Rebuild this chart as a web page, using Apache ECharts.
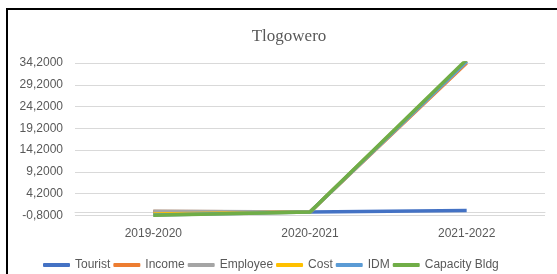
<!DOCTYPE html>
<html>
<head>
<meta charset="utf-8">
<script src="https://cdn.jsdelivr.net/npm/echarts@6/dist/echarts.min.js"></script>
<style>
  html, body { margin: 0; padding: 0; background: #fff; }
  #chart-container { width: 557px; height: 274px; }
</style>
</head>
<body>
<div id="chart-container"></div>
<script>
var categories = ["2019-2020", "2020-2021", "2021-2022"];
var tourist = [0, 0, 0.35];
var income = [0.1, 0, 34.2];
var employee = [0.15, 0, 34.5];
var cost = [-0.45, 0, 34.7];
var idm = [-0.7, 0, 34.6];
var capacityBldg = [-0.75, 0, 35.0];

var seriesNames = ["Tourist", "Income", "Employee", "Cost", "IDM", "Capacity Bldg"];
var seriesValues = [tourist, income, employee, cost, idm, capacityBldg];
var colors = ["#4472C4", "#ED7D31", "#A5A5A5", "#FFC000", "#5B9BD5", "#70AD47"];

var dom = document.getElementById("chart-container");
var myChart = echarts.init(dom, null, { renderer: "canvas" });

var option = {
  backgroundColor: "#fff",
  color: colors,
  animation: false,
  title: {
    text: "Tlogowero",
    left: 284,
    top: 23,
    textAlign: "center",
    textStyle: {
      fontFamily: "Liberation Serif",
      fontSize: 17,
      fontWeight: "normal",
      color: "#595959",
    },
  },
  graphic: [
    {
      type: "rect",
      shape: { x: 7, y: 9, width: 620, height: 320 },
      style: { fill: "none", stroke: "#000", lineWidth: 2 },
      silent: true,
    },
  ],
  legend: {
    left: 38,
    top: 254,
    itemGap: 3,
    itemWidth: 27,
    itemHeight: 4,
    icon: "roundRect",
    textStyle: {
      fontFamily: "Liberation Sans",
      fontSize: 12,
      color: "#595959",
    },
    data: seriesNames,
  },
  grid: {
    left: 75,
    right: 12,
    top: 63,
    bottom: 274 - 215.5,
  },
  xAxis: {
    type: "category",
    data: categories,
    boundaryGap: true,
    axisLine: { onZero: true, lineStyle: { color: "#d9d9d9", width: 1 } },
    axisTick: { show: false },
    axisLabel: {
      fontFamily: "Liberation Sans",
      fontSize: 12,
      color: "#595959",
      margin: 12,
    },
  },
  yAxis: {
    type: "value",
    min: -0.8,
    max: 34.2,
    interval: 5,
    axisLine: { show: false },
    axisTick: { show: false },
    splitLine: { lineStyle: { color: "#d9d9d9", width: 1 } },
    axisLabel: {
      fontFamily: "Liberation Sans",
      fontSize: 12,
      color: "#595959",
      margin: 12,
      formatter: function (v) {
        return v.toFixed(4).replace(".", ",");
      },
    },
  },
  series: seriesNames.map(function (name, i) {
    return {
      name: name,
      type: "line",
      data: seriesValues[i],
      showSymbol: false,
      symbol: "none",
      lineStyle: { width: 3.5, color: colors[i] },
    };
  }),
};

myChart.setOption(option);
window.addEventListener("resize", myChart.resize);
</script>
</body>
</html>
